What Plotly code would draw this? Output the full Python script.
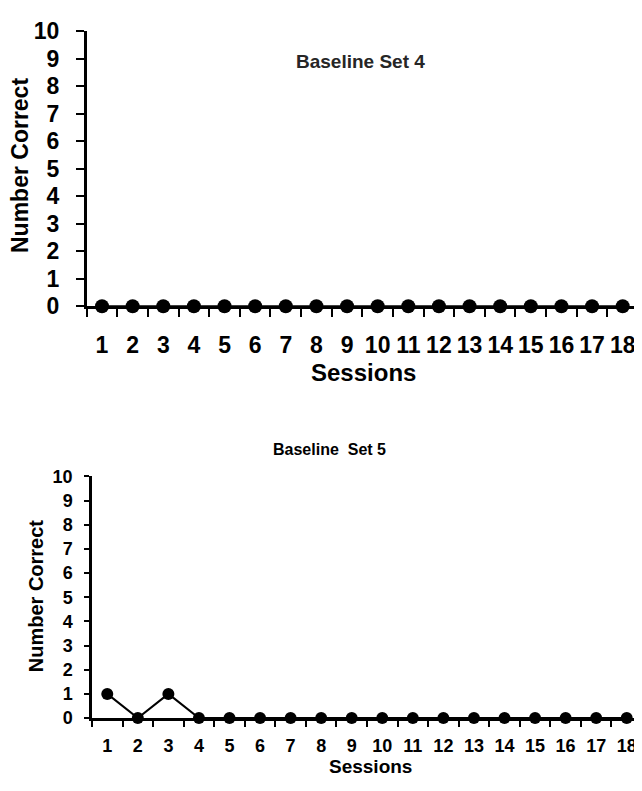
import plotly.graph_objects as go

# ---- data ----
sessions = list(range(1, 19))
set4_correct = [0, 0, 0, 0, 0, 0, 0, 0, 0, 0, 0, 0, 0, 0, 0, 0, 0, 0]
set5_correct = [1, 0, 1, 0, 0, 0, 0, 0, 0, 0, 0, 0, 0, 0, 0, 0, 0, 0]
y_ticks = list(range(0, 11))
x_tick_labels = [str(s) for s in sessions]
title4 = "Baseline Set 4"
title5 = "Baseline  Set 5"
x_title = "Sessions"
y_title = "Number Correct"

# page body has an 8px margin, so the figure is drawn 8px in from the corner
OFF = 8
W, H = 642 - OFF, 791 - OFF
FONT = "Liberation Sans, Arial, sans-serif"


def px_x(p):
    return (p - OFF) / W


def px_y(p):
    return 1 - (p - OFF) / H


fig = go.Figure()

fig.add_trace(go.Scatter(
    x=sessions, y=set4_correct, mode="lines+markers",
    line=dict(color="black", width=2),
    marker=dict(color="black", size=14),
    cliponaxis=False, xaxis="x", yaxis="y", showlegend=False,
))
fig.add_trace(go.Scatter(
    x=sessions, y=set5_correct, mode="lines+markers",
    line=dict(color="black", width=2),
    marker=dict(color="black", size=12),
    cliponaxis=False, xaxis="x2", yaxis="y2", showlegend=False,
))


def xaxis_cfg(domain, size, standoff, ticklen):
    return dict(
        domain=domain, range=[0.5, 18.5], showgrid=False, zeroline=False,
        showline=True, linecolor="black", linewidth=2.5,
        tickmode="array", tickvals=sessions, ticktext=x_tick_labels,
        ticks="", ticklabelstandoff=standoff,
        tickfont=dict(family=FONT, size=size, color="black", weight="bold"),
        minor=dict(ticks="outside", tick0=0.5, dtick=1, ticklen=ticklen,
                   tickwidth=2, tickcolor="black", showgrid=False),
        fixedrange=True,
    )


def yaxis_cfg(domain, size, anchor, ticklen, standoff):
    return dict(
        domain=domain, range=[0, 10], showgrid=False, zeroline=False,
        showline=True, linecolor="black", linewidth=2.5,
        tickmode="array", tickvals=y_ticks, ticks="outside",
        ticklen=ticklen, tickwidth=2, tickcolor="black",
        ticklabelstandoff=standoff, anchor=anchor,
        tickfont=dict(family=FONT, size=size, color="black", weight="bold"),
        fixedrange=True,
    )


fig.update_layout(
    width=W, height=H,
    margin=dict(l=0, r=0, t=0, b=0),
    paper_bgcolor="white", plot_bgcolor="white",
    xaxis=dict(**xaxis_cfg([px_x(86.7), px_x(638)], 23, 16, 8), anchor="y"),
    yaxis=yaxis_cfg([px_y(303), px_y(18.5)], 23, "x", 8, 12),
    xaxis2=dict(**xaxis_cfg([px_x(92), px_x(642)], 18, 10, 6), anchor="y2"),
    yaxis2=yaxis_cfg([px_y(729), px_y(479)], 18, "x2", 5, 8),
    annotations=[
        dict(text=title4, x=px_x(360), y=px_y(50), xref="paper", yref="paper",
             showarrow=False, xanchor="center", yanchor="middle",
             font=dict(family=FONT, size=19, color="#262626", weight="bold")),
        dict(text=title5, x=px_x(330), y=px_y(451), xref="paper", yref="paper",
             showarrow=False, xanchor="center", yanchor="middle",
             font=dict(family=FONT, size=16, color="black", weight="bold")),
        dict(text=x_title, x=px_x(363), y=px_y(372), xref="paper", yref="paper",
             showarrow=False, xanchor="center", yanchor="middle",
             font=dict(family=FONT, size=24, color="black", weight="bold")),
        dict(text=x_title, x=px_x(370), y=px_y(779), xref="paper", yref="paper",
             showarrow=False, xanchor="center", yanchor="middle",
             font=dict(family=FONT, size=19, color="black", weight="bold")),
        dict(text=y_title, x=px_x(20), y=px_y(158), xref="paper", yref="paper",
             showarrow=False, xanchor="center", yanchor="middle", textangle=-90,
             font=dict(family=FONT, size=23, color="black", weight="bold")),
        dict(text=y_title, x=px_x(36), y=px_y(603), xref="paper", yref="paper",
             showarrow=False, xanchor="center", yanchor="middle", textangle=-90,
             font=dict(family=FONT, size=20, color="black", weight="bold")),
    ],
)

fig.write_html("out.html")
